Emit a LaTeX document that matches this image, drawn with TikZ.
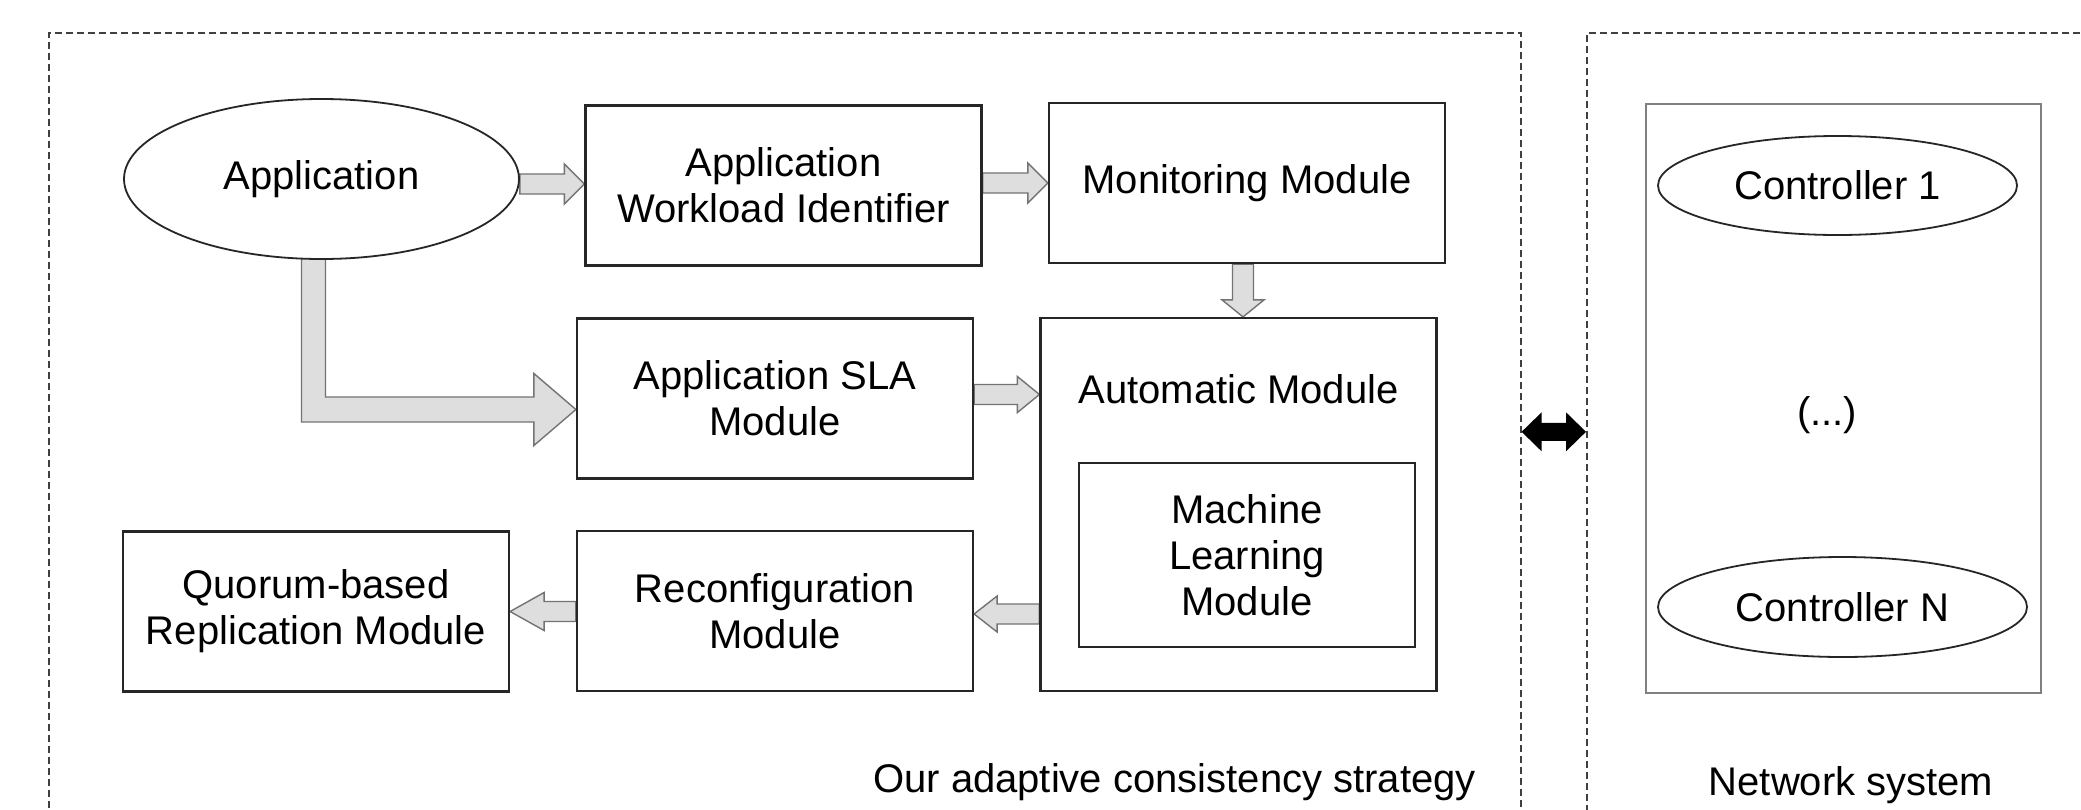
\documentclass[tikz,border=0pt]{standalone}
\usepackage{fontspec}
\setmainfont{Liberation Sans}
\usetikzlibrary{shapes.geometric,calc,backgrounds}

\newcommand\boxfont{\fontsize{20}{23}\selectfont}

% horizontal block arrow: #2 start, #3 tip (height taken from the tip),
% #4 half body width, #5 half head width, #6 head length
\newcommand\blockH[6][arrowbody]{%
  \draw[#1] let \p1=(#2), \p2=(#3), \n1={sign(\x2-\x1)} in
    ({\x1},{\y2+#4}) -- ({\x2-\n1*#6},{\y2+#4}) -- ({\x2-\n1*#6},{\y2+#5}) -- ({\x2},{\y2})
    -- ({\x2-\n1*#6},{\y2-#5}) -- ({\x2-\n1*#6},{\y2-#4}) -- ({\x1},{\y2-#4}) -- cycle;}
% vertical block arrow (x taken from the start)
\newcommand\blockV[6][arrowbody]{%
  \draw[#1] let \p1=(#2), \p2=(#3), \n1={sign(\y2-\y1)} in
    ({\x1+#4},{\y1}) -- ({\x1+#4},{\y2-\n1*#6}) -- ({\x1+#5},{\y2-\n1*#6}) -- ({\x1},{\y2})
    -- ({\x1-#5},{\y2-\n1*#6}) -- ({\x1-#4},{\y2-\n1*#6}) -- ({\x1-#4},{\y1}) -- cycle;}

\tikzset{
  box/.style={draw=black!85, line width=1.1pt, fill=white, minimum width=198pt,
    minimum height=80pt, align=center, inner sep=0pt, font=\boxfont},
  oval/.style={ellipse, draw=black!85, line width=0.9pt, fill=white,
    inner sep=0pt, align=center, font=\boxfont},
  frame/.style={draw=black!75, line width=0.8pt, dash pattern=on 3.5pt off 2pt,
    anchor=north west, minimum height=399pt, inner sep=0pt},
  arrowbody/.style={fill=black!13, draw=black!55, line width=0.7pt, line join=miter},
  lbl/.style={font=\boxfont, inner sep=0pt},
}

\begin{document}
\begin{tikzpicture}[x=0.5pt,y=-0.5pt]
\clip (0,0) rectangle (2081,809);

% dashed frames
\node[frame, minimum width=736pt] (strat) at (48,32) {};
\node[frame, minimum width=262pt] (net) at (1586,32) {};

% adaptive consistency strategy
\node[oval, minimum width=197.5pt, minimum height=80pt] (app) at (321.5,179) {Application};
\node[box] (wl) at (783.5,185.5) {Application\\Workload Identifier};
\node[box] (mon) at (1247,183) {Monitoring Module};
\node[box] (sla) at (775,398.5) {Application SLA\\Module};
\node[box, minimum height=186.5pt] (auto) at (1238.5,504.5) {};
\node[lbl] (autolbl) at ($(auto.north)+(0,72)$) {Automatic Module};
\node[box, minimum width=168pt, minimum height=92pt] (ml) at (1247,555) {Machine\\Learning\\Module};
\node[box] (reconf) at (775,611) {Reconfiguration\\Module};
\node[box, minimum width=193pt] (quorum) at (316,611.5) {Quorum-based\\Replication Module};

% network system
\node[draw=black!50, line width=1pt, minimum width=197.5pt, minimum height=294.5pt,
  inner sep=0pt] (netbox) at (1843.5,398.5) {};
\node[oval, minimum width=179.5pt, minimum height=49.5pt] (c1) at (1837.5,185.5) {Controller 1};
\node[lbl] (dots) at (1827,415) {(...)};
\node[oval, minimum width=184.5pt, minimum height=50pt] (cn) at (1842.5,607) {Controller N};

% captions
\node[lbl, anchor=base] (stratlbl) at (1174.5,792) {Our adaptive consistency strategy};
\node[lbl, anchor=base] (netlbl) at (1851,795) {Network system};

% block arrows, drawn behind the boxes
\begin{scope}[on background layer]
\fill[white] (0,0) rectangle (2081,809);
\blockH{app.east}{$(wl.west)+(0,-1.5)$}{5pt}{10pt}{10pt}
\blockH{wl.east}{mon.west}{5pt}{10pt}{10pt}
\blockV{$(mon.south)+(-4,0)$}{auto.north}{5.25pt}{10.5pt}{8.5pt}
\blockH{sla.east}{$(auto.west |- sla.east)+(0,-4)$}{5pt}{9pt}{11pt}
\blockH{$(auto.west)+(0,109)$}{$(reconf.east)+(0,3)$}{5pt}{9pt}{11.5pt}
\blockH{reconf.west}{quorum.east}{5pt}{9.5pt}{17pt}
\draw[arrowbody] let \p1=($(app.south)+(-8,-4)$), \p2=($(sla.west)+(0,11)$) in
  ({\x1-6pt},{\y1}) -- ({\x1-6pt},{\y2-6.25pt}) -- ({\x2-21pt},{\y2-6.25pt}) -- ({\x2-21pt},{\y2-18pt})
  -- ({\x2},{\y2}) -- ({\x2-21pt},{\y2+18pt}) -- ({\x2-21pt},{\y2+6.25pt}) -- ({\x1+6pt},{\y2+6.25pt})
  -- ({\x1+6pt},{\y1}) -- cycle;
\end{scope}

% link between the two parts
\fill[black] let \p1=(strat.east), \p2=(net.west) in
  ({\x1},{\y1}) -- ({\x1+10pt},{\y1+9.75pt}) -- ({\x1+10pt},{\y1+4.5pt}) -- ({\x2-10pt},{\y1+4.5pt})
  -- ({\x2-10pt},{\y1+9.75pt}) -- ({\x2},{\y1}) -- ({\x2-10pt},{\y1-9.75pt}) -- ({\x2-10pt},{\y1-4.5pt})
  -- ({\x1+10pt},{\y1-4.5pt}) -- ({\x1+10pt},{\y1-9.75pt}) -- cycle;
\end{tikzpicture}
\end{document}
